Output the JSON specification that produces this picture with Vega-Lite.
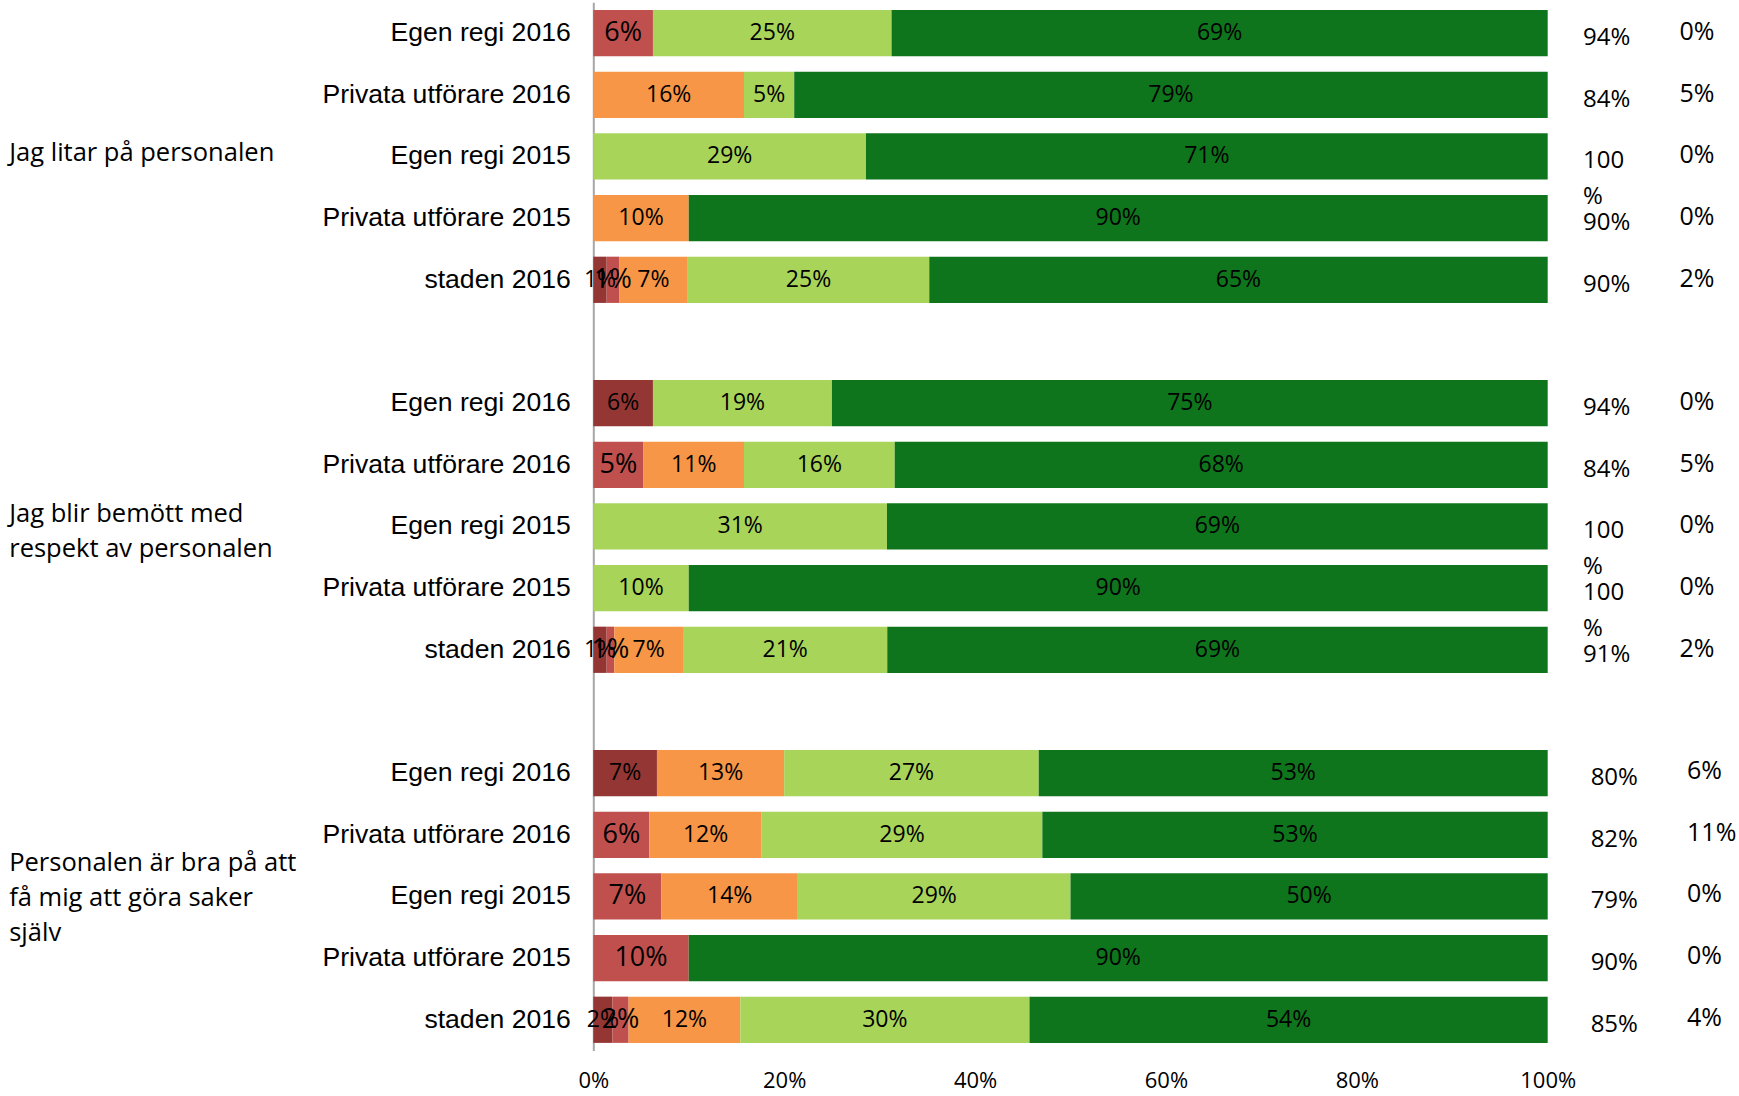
{
  "$schema": "https://vega.github.io/schema/vega-lite/v6.json",
  "width": 954.4,
  "height": 1048.3,
  "autosize": "none",
  "padding": {"left": 593.3, "top": 2.3, "right": 191.3, "bottom": 45.4},
  "background": "white",
  "config": {"view": {"stroke": null}},
  "datasets": {
    "bars": [
      {"row": "Egen regi 2016|A", "k": 2, "cat": "Instämmer i liten grad", "v": 0.0625},
      {"row": "Egen regi 2016|A", "k": 4, "cat": "Instämmer i stor grad", "v": 0.25},
      {"row": "Egen regi 2016|A", "k": 5, "cat": "Instämmer helt", "v": 0.6875},
      {"row": "Privata utförare 2016|A", "k": 3, "cat": "Instämmer delvis", "v": 0.1579},
      {"row": "Privata utförare 2016|A", "k": 4, "cat": "Instämmer i stor grad", "v": 0.0526},
      {"row": "Privata utförare 2016|A", "k": 5, "cat": "Instämmer helt", "v": 0.7895},
      {"row": "Egen regi 2015|A", "k": 4, "cat": "Instämmer i stor grad", "v": 0.2857},
      {"row": "Egen regi 2015|A", "k": 5, "cat": "Instämmer helt", "v": 0.7143},
      {"row": "Privata utförare 2015|A", "k": 3, "cat": "Instämmer delvis", "v": 0.10},
      {"row": "Privata utförare 2015|A", "k": 5, "cat": "Instämmer helt", "v": 0.90},
      {"row": "staden 2016|A", "k": 1, "cat": "Instämmer inte alls", "v": 0.014},
      {"row": "staden 2016|A", "k": 2, "cat": "Instämmer i liten grad", "v": 0.013},
      {"row": "staden 2016|A", "k": 3, "cat": "Instämmer delvis", "v": 0.072},
      {"row": "staden 2016|A", "k": 4, "cat": "Instämmer i stor grad", "v": 0.253},
      {"row": "staden 2016|A", "k": 5, "cat": "Instämmer helt", "v": 0.648},

      {"row": "Egen regi 2016|B", "k": 1, "cat": "Instämmer inte alls", "v": 0.0625},
      {"row": "Egen regi 2016|B", "k": 4, "cat": "Instämmer i stor grad", "v": 0.1875},
      {"row": "Egen regi 2016|B", "k": 5, "cat": "Instämmer helt", "v": 0.75},
      {"row": "Privata utförare 2016|B", "k": 2, "cat": "Instämmer i liten grad", "v": 0.0526},
      {"row": "Privata utförare 2016|B", "k": 3, "cat": "Instämmer delvis", "v": 0.1053},
      {"row": "Privata utförare 2016|B", "k": 4, "cat": "Instämmer i stor grad", "v": 0.1579},
      {"row": "Privata utförare 2016|B", "k": 5, "cat": "Instämmer helt", "v": 0.6842},
      {"row": "Egen regi 2015|B", "k": 4, "cat": "Instämmer i stor grad", "v": 0.3077},
      {"row": "Egen regi 2015|B", "k": 5, "cat": "Instämmer helt", "v": 0.6923},
      {"row": "Privata utförare 2015|B", "k": 4, "cat": "Instämmer i stor grad", "v": 0.10},
      {"row": "Privata utförare 2015|B", "k": 5, "cat": "Instämmer helt", "v": 0.90},
      {"row": "staden 2016|B", "k": 1, "cat": "Instämmer inte alls", "v": 0.014},
      {"row": "staden 2016|B", "k": 2, "cat": "Instämmer i liten grad", "v": 0.008},
      {"row": "staden 2016|B", "k": 3, "cat": "Instämmer delvis", "v": 0.072},
      {"row": "staden 2016|B", "k": 4, "cat": "Instämmer i stor grad", "v": 0.214},
      {"row": "staden 2016|B", "k": 5, "cat": "Instämmer helt", "v": 0.692},

      {"row": "Egen regi 2016|C", "k": 1, "cat": "Instämmer inte alls", "v": 0.0667},
      {"row": "Egen regi 2016|C", "k": 3, "cat": "Instämmer delvis", "v": 0.1333},
      {"row": "Egen regi 2016|C", "k": 4, "cat": "Instämmer i stor grad", "v": 0.2667},
      {"row": "Egen regi 2016|C", "k": 5, "cat": "Instämmer helt", "v": 0.5333},
      {"row": "Privata utförare 2016|C", "k": 2, "cat": "Instämmer i liten grad", "v": 0.0588},
      {"row": "Privata utförare 2016|C", "k": 3, "cat": "Instämmer delvis", "v": 0.1176},
      {"row": "Privata utförare 2016|C", "k": 4, "cat": "Instämmer i stor grad", "v": 0.2941},
      {"row": "Privata utförare 2016|C", "k": 5, "cat": "Instämmer helt", "v": 0.5295},
      {"row": "Egen regi 2015|C", "k": 2, "cat": "Instämmer i liten grad", "v": 0.0714},
      {"row": "Egen regi 2015|C", "k": 3, "cat": "Instämmer delvis", "v": 0.1429},
      {"row": "Egen regi 2015|C", "k": 4, "cat": "Instämmer i stor grad", "v": 0.2857},
      {"row": "Egen regi 2015|C", "k": 5, "cat": "Instämmer helt", "v": 0.50},
      {"row": "Privata utförare 2015|C", "k": 2, "cat": "Instämmer i liten grad", "v": 0.10},
      {"row": "Privata utförare 2015|C", "k": 5, "cat": "Instämmer helt", "v": 0.90},
      {"row": "staden 2016|C", "k": 1, "cat": "Instämmer inte alls", "v": 0.020},
      {"row": "staden 2016|C", "k": 2, "cat": "Instämmer i liten grad", "v": 0.017},
      {"row": "staden 2016|C", "k": 3, "cat": "Instämmer delvis", "v": 0.117},
      {"row": "staden 2016|C", "k": 4, "cat": "Instämmer i stor grad", "v": 0.303},
      {"row": "staden 2016|C", "k": 5, "cat": "Instämmer helt", "v": 0.543}
    ],
    "side": [
      {"row": "Egen regi 2016|A", "grp": "A", "tot": "94%", "nej": "0%"},
      {"row": "Privata utförare 2016|A", "grp": "A", "tot": "84%", "nej": "5%"},
      {"row": "Egen regi 2015|A", "grp": "A", "tot": "100\n%", "nej": "0%"},
      {"row": "Privata utförare 2015|A", "grp": "A", "tot": "90%", "nej": "0%"},
      {"row": "staden 2016|A", "grp": "A", "tot": "90%", "nej": "2%"},
      {"row": "Egen regi 2016|B", "grp": "B", "tot": "94%", "nej": "0%"},
      {"row": "Privata utförare 2016|B", "grp": "B", "tot": "84%", "nej": "5%"},
      {"row": "Egen regi 2015|B", "grp": "B", "tot": "100\n%", "nej": "0%"},
      {"row": "Privata utförare 2015|B", "grp": "B", "tot": "100\n%", "nej": "0%"},
      {"row": "staden 2016|B", "grp": "B", "tot": "91%", "nej": "2%"},
      {"row": "Egen regi 2016|C", "grp": "C", "tot": "80%", "nej": "6%"},
      {"row": "Privata utförare 2016|C", "grp": "C", "tot": "82%", "nej": "11%"},
      {"row": "Egen regi 2015|C", "grp": "C", "tot": "79%", "nej": "0%"},
      {"row": "Privata utförare 2015|C", "grp": "C", "tot": "90%", "nej": "0%"},
      {"row": "staden 2016|C", "grp": "C", "tot": "85%", "nej": "4%"}
    ],
    "groups": [
      {"row": "Egen regi 2015|A", "grp": "A", "txt": "Jag litar på personalen"},
      {"row": "Egen regi 2015|B", "grp": "B", "txt": "Jag blir bemött med\nrespekt av personalen"},
      {"row": "Egen regi 2015|C", "grp": "C", "txt": "Personalen är bra på att\nfå mig att göra saker\nsjälv"}
    ]
  },
  "layer": [
    {
      "data": {"name": "bars"},
      "mark": {"type": "bar"},
      "encoding": {
        "y": {
          "field": "row", "type": "nominal",
          "scale": {
            "domain": ["Egen regi 2016|A", "Privata utförare 2016|A", "Egen regi 2015|A", "Privata utförare 2015|A", "staden 2016|A", "gap1",
                       "Egen regi 2016|B", "Privata utförare 2016|B", "Egen regi 2015|B", "Privata utförare 2015|B", "staden 2016|B", "gap2",
                       "Egen regi 2016|C", "Privata utförare 2016|C", "Egen regi 2015|C", "Privata utförare 2015|C", "staden 2016|C"],
            "paddingInner": 0.25, "paddingOuter": 0.125
          },
          "axis": {
            "title": null,
            "labelExpr": "indexof(datum.label, '|') >= 0 ? split(datum.label, '|')[0] : ''",
            "labelFont": "Liberation Sans", "labelFontSize": 26.6, "labelColor": "#000000",
            "labelLimit": 500, "labelPadding": 23,
            "ticks": false, "tickSize": 0,
            "domainColor": "#a6a6a6", "domainWidth": 2, "grid": false
          }
        },
        "x": {
          "field": "v", "type": "quantitative", "stack": "zero",
          "scale": {"domain": [0, 1]},
          "axis": {
            "title": null, "format": ".0%", "values": [0, 0.2, 0.4, 0.6, 0.8, 1],
            "labelFont": "Open Sans", "labelFontSize": 22, "labelColor": "#000000", "labelFlush": false,
            "domain": false, "ticks": false, "tickSize": 0, "labelPadding": 20, "grid": false
          }
        },
        "color": {
          "field": "cat", "type": "nominal",
          "scale": {
            "domain": ["Instämmer inte alls", "Instämmer i liten grad", "Instämmer delvis", "Instämmer i stor grad", "Instämmer helt"],
            "range": ["#943634", "#C0504D", "#F79646", "#A8D45A", "#0F751C"]
          },
          "legend": null
        },
        "order": {"field": "k", "type": "quantitative"}
      }
    },
    {
      "data": {"name": "bars"},
      "mark": {"type": "text", "font": "Open Sans", "color": "#000000", "baseline": "middle", "align": "center"},
      "encoding": {
        "y": {"field": "row", "type": "nominal"},
        "x": {"field": "v", "type": "quantitative", "stack": "zero", "bandPosition": 0.5, "scale": {"domain": [0, 1]}},
        "detail": {"field": "cat"},
        "order": {"field": "k", "type": "quantitative"},
        "text": {"field": "v", "type": "quantitative", "format": ".0%"},
        "size": {"condition": {"test": "datum.k == 2", "value": 27}, "value": 23}
      }
    },
    {
      "data": {"name": "side"},
      "transform": [{"filter": "datum.grp != 'C'"}],
      "mark": {"type": "text", "font": "Open Sans", "fontSize": 24, "color": "#000000", "baseline": "top", "align": "left", "dy": -7, "lineBreak": "\n", "lineHeight": 36},
      "encoding": {
        "y": {"field": "row", "type": "nominal"},
        "x": {"datum": 1.037, "type": "quantitative", "scale": {"domain": [0, 1]}},
        "text": {"field": "tot"}
      }
    },
    {
      "data": {"name": "side"},
      "transform": [{"filter": "datum.grp == 'C'"}],
      "mark": {"type": "text", "font": "Open Sans", "fontSize": 24, "color": "#000000", "baseline": "top", "align": "left", "dy": -7},
      "encoding": {
        "y": {"field": "row", "type": "nominal"},
        "x": {"datum": 1.045, "type": "quantitative", "scale": {"domain": [0, 1]}},
        "text": {"field": "tot"}
      }
    },
    {
      "data": {"name": "side"},
      "transform": [{"filter": "datum.grp != 'C'"}],
      "mark": {"type": "text", "font": "Open Sans", "fontSize": 25, "color": "#000000", "baseline": "middle", "align": "left", "dy": -1},
      "encoding": {
        "y": {"field": "row", "type": "nominal"},
        "x": {"datum": 1.138, "type": "quantitative", "scale": {"domain": [0, 1]}},
        "text": {"field": "nej"}
      }
    },
    {
      "data": {"name": "side"},
      "transform": [{"filter": "datum.grp == 'C'"}],
      "mark": {"type": "text", "font": "Open Sans", "fontSize": 25, "color": "#000000", "baseline": "middle", "align": "left", "dy": -2},
      "encoding": {
        "y": {"field": "row", "type": "nominal"},
        "x": {"datum": 1.146, "type": "quantitative", "scale": {"domain": [0, 1]}},
        "text": {"field": "nej"}
      }
    },
    {
      "data": {"name": "groups"},
      "transform": [{"filter": "datum.grp == 'A'"}],
      "mark": {"type": "text", "font": "Open Sans", "fontSize": 25.5, "color": "#000000", "baseline": "middle", "align": "left", "dy": -3},
      "encoding": {
        "y": {"field": "row", "type": "nominal"},
        "x": {"datum": -0.612, "type": "quantitative", "scale": {"domain": [0, 1]}},
        "text": {"field": "txt"}
      }
    },
    {
      "data": {"name": "groups"},
      "transform": [{"filter": "datum.grp == 'B'"}],
      "mark": {"type": "text", "font": "Open Sans", "fontSize": 25.5, "color": "#000000", "baseline": "middle", "align": "left", "dy": -12, "lineBreak": "\n", "lineHeight": 35},
      "encoding": {
        "y": {"field": "row", "type": "nominal"},
        "x": {"datum": -0.612, "type": "quantitative", "scale": {"domain": [0, 1]}},
        "text": {"field": "txt"}
      }
    },
    {
      "data": {"name": "groups"},
      "transform": [{"filter": "datum.grp == 'C'"}],
      "mark": {"type": "text", "font": "Open Sans", "fontSize": 25.5, "color": "#000000", "baseline": "middle", "align": "left", "dy": -33, "lineBreak": "\n", "lineHeight": 35},
      "encoding": {
        "y": {"field": "row", "type": "nominal"},
        "x": {"datum": -0.612, "type": "quantitative", "scale": {"domain": [0, 1]}},
        "text": {"field": "txt"}
      }
    }
  ]
}
